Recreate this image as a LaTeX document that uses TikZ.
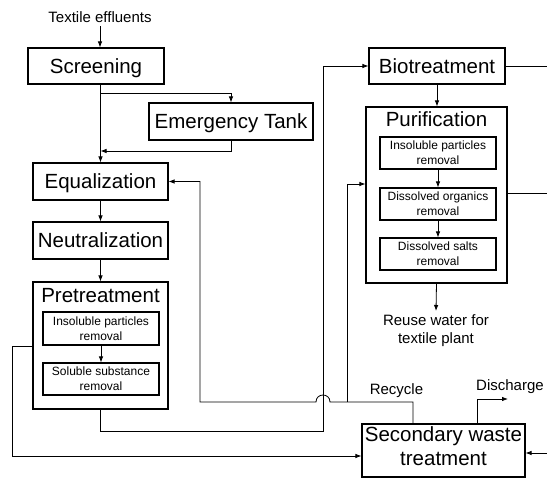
\documentclass[tikz,border=0pt]{standalone}
\usepackage{fontspec}
\setmainfont{Liberation Sans}
\usetikzlibrary{arrows.meta,calc}
\begin{document}
\begin{tikzpicture}[x=1pt,y=-1pt,
  box/.style={draw,line width=1.1pt,inner sep=0pt,align=center},
  big/.style={font=\fontsize{20.5}{24}\selectfont},
  bigone/.style={big,text height=15pt,text depth=0pt},
  mid/.style={font=\fontsize{15}{18}\selectfont,align=center},
  sml/.style={font=\fontsize{12}{15}\selectfont},
  inbox/.style={box,sml,minimum width=116pt,minimum height=32pt},
  conn/.style={line width=0.8pt},
  arr/.style={conn,-{Latex[length=6pt,width=4.5pt]}}]
\useasboundingbox (0,0) rectangle (547,478);
% nodes
\node[mid] (eff) at (100,17) {Textile effluents};
\node[box,bigone,minimum width=136pt,minimum height=36pt] (scr) at (96,66) {Screening};
\node[box,bigone,minimum width=164pt,minimum height=37pt] (emg) at (231,121.5) {Emergency Tank};
\node[box,bigone,minimum width=135pt,minimum height=37pt] (equ) at (100.5,181.5) {Equalization};
\node[box,bigone,minimum width=135pt,minimum height=37pt] (neu) at (100.5,240.5) {Neutralization};
\node[box,minimum width=135pt,minimum height=127pt] (pre) at (100.5,345.5) {};
\node[bigone] (pret) at (100.5,295) {Pretreatment};
\node[inbox,minimum height=33pt] (pi1) at (101,328.5) {Insoluble particles\\removal};
\node[inbox] (pi2) at (101,379) {Soluble substance\\removal};
\node[box,bigone,minimum width=136pt,minimum height=36pt] (bio) at (437,66) {Biotreatment};
\node[box,minimum width=141pt,minimum height=176pt] (pur) at (436.5,195) {};
\node[bigone] (purt) at (436.5,119) {Purification};
\node[inbox] (pu1) at (438,153) {Insoluble particles\\removal};
\node[inbox] (pu2) at (438,204) {Dissolved organics\\removal};
\node[inbox] (pu3) at (438,254) {Dissolved salts\\removal};
\node[mid,anchor=north,inner sep=3pt] (reuse) at (436,311) {Reuse water for\\textile plant};
\node[box,big,text depth=8pt,minimum width=163pt,minimum height=53pt] (sec) at (443.5,450.5) {Secondary waste\\treatment};
\node[mid] (recl) at (396.5,391) {Recycle};
\node[mid] (disl) at (510,386.5) {Discharge};
% waypoints
\coordinate (b1) at (100.5,93);
\coordinate (b2) at (100.5,151);
\coordinate (l1) at (12,346);
\coordinate (l2) at (12,456);
\coordinate (j1) at (323,431);
\coordinate (rc) at (413,402);
\coordinate (rb) at (347,402);
\coordinate (rx) at (200,402);
\coordinate (hr) at (330,402);
\coordinate (hl) at (316,402);
\coordinate (hc1) at (330,392.7);
\coordinate (hc2) at (316,392.7);
\coordinate (e1) at (547,66);
\coordinate (e2) at (547,193);
\coordinate (e3) at (547,453);
\coordinate (d1) at (477,399);
\coordinate (d2) at (508,399);
% connectors
\draw[arr] (eff.south) -- (eff.south |- scr.north);
\draw[arr] (equ.north |- scr.south) -- (equ.north);
\draw[arr] (b1) -| (emg.north);
\draw[arr] (emg.south) |- (b2);
\draw[arr] (equ.south) -- (neu.north);
\draw[arr] (neu.south) -- (pre.north);
\draw[arr] (pi1.south) -- (pi2.north);
\draw[arr] (pre.west |- l1) -- (l1) -- (l2) -- (l2 -| sec.west);
\draw[arr] (pre.south) |- (j1) |- (bio.west);
\draw[arr] (rc |- sec.north) -- (rc) -- (hr) .. controls (hc1) and (hc2) .. (hl) -- (rx) |- (equ.east);
\draw[arr] (rb) |- ($(pur.west)+(0,-11)$);
\draw[arr] (bio.south) -- (bio.south |- pur.north);
\draw[arr] (pu1.south) -- (pu2.north);
\draw[arr] (pu2.south) -- (pu3.north);
\draw[arr] (pur.south) -- (reuse.north);
\draw[conn] (bio.east) -- (e1);
\draw[conn] (pur.east |- e2) -- (e2);
\draw[arr] (e3) -- (e3 -| sec.east);
\draw[arr] (d1 |- sec.north) -- (d1) -- (d2);
\end{tikzpicture}
\end{document}
